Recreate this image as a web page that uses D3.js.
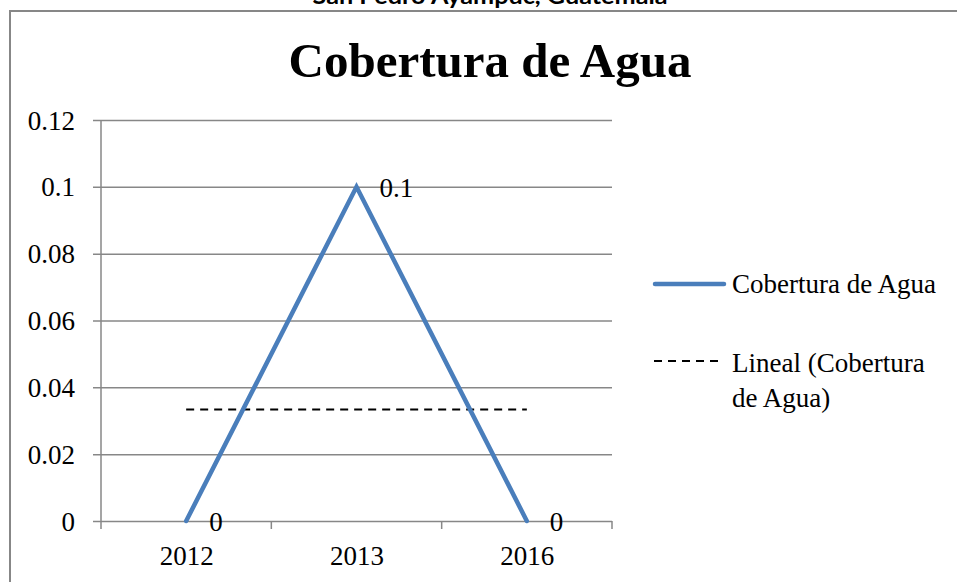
<!DOCTYPE html>
<html>
<head>
<meta charset="utf-8">
<script src="https://cdn.jsdelivr.net/npm/d3@7/dist/d3.min.js"></script>
<style>
  html, body { margin: 0; padding: 0; background: #fff; }
  svg { display: block; }
</style>
</head>
<body>
<svg id="chart" width="957" height="582"></svg>
<script>
// ---- Data ----
const categories = ["2012", "2013", "2016"];
const values = [0, 0.1, 0];
const yTicks = [0, 0.02, 0.04, 0.06, 0.08, 0.1, 0.12];
const yTickLabels = ["0", "0.02", "0.04", "0.06", "0.08", "0.1", "0.12"];
const dataLabels = ["0", "0.1", "0"];
const seriesName = "Cobertura de Agua";
const trendNameLines = ["Lineal (Cobertura", "de Agua)"];
const chartTitle = "Cobertura de Agua";
const topTitle = "San Pedro Ayampuc, Guatemala";

// ---- Layout ----
const svg = d3.select("#chart");
const serif = "'Liberation Serif', 'Times New Roman', serif";
const gray = "#878787";
const blue = "#4A7EBB";
const plot = { left: 101, right: 612, top: 120, bottom: 521 };

const x = d3.scalePoint().domain(categories).range([plot.left, plot.right]).padding(0.5);
const xBand = d3.scaleBand().domain(categories).range([plot.left, plot.right]);
const y = d3.scaleLinear().domain([0, 0.12]).range([plot.bottom, plot.top]);

// outer border (extends beyond viewport right/bottom)
svg.append("path")
  .attr("d", `M10,600 L10,11 L970,11`)
  .attr("fill", "none").attr("stroke", gray).attr("stroke-width", 2);

// top title (cut off)
svg.append("text")
  .attr("x", 490).attr("y", 4)
  .attr("text-anchor", "middle")
  .attr("font-family", "Lato, 'Open Sans', sans-serif")
  .attr("font-weight", "bold").attr("font-size", 23)
  .attr("textLength", 355).attr("lengthAdjust", "spacingAndGlyphs")
  .text(topTitle);

// chart title
svg.append("text")
  .attr("x", 490).attr("y", 77)
  .attr("text-anchor", "middle")
  .attr("font-family", serif).attr("font-weight", "bold").attr("font-size", 49)
  .text(chartTitle);

// gridlines + y ticks
const yAxis = d3.axisLeft(y).tickValues(yTicks)
  .tickSize(-(plot.right - plot.left))
  .tickFormat((d, i) => yTickLabels[i]);
const gy = svg.append("g").attr("transform", `translate(${plot.left},0)`).call(yAxis);
gy.select(".domain").remove();
gy.selectAll(".tick line")
  .attr("x1", -8)
  .attr("stroke", gray).attr("stroke-width", 1.5);
gy.selectAll(".tick text")
  .attr("x", -26).attr("dy", null).attr("y", 9)
  .attr("font-family", serif).attr("font-size", 27).attr("fill", "#000");

// y axis line
svg.append("line")
  .attr("x1", plot.left).attr("x2", plot.left)
  .attr("y1", plot.top).attr("y2", plot.bottom)
  .attr("stroke", gray).attr("stroke-width", 1.5);

// x axis
const xAxis = d3.axisBottom(x).tickSize(0);
const gx = svg.append("g").attr("transform", `translate(0,${plot.bottom})`).call(xAxis);
gx.select(".domain").remove();
gx.selectAll(".tick text")
  .attr("y", 44).attr("dy", null)
  .attr("font-family", serif).attr("font-size", 27).attr("fill", "#000");
// x tick marks at band boundaries
const bounds = categories.map(c => xBand(c)).concat([xBand.range()[1]]);
svg.append("g").selectAll("line").data(bounds).join("line")
  .attr("x1", d => d).attr("x2", d => d)
  .attr("y1", plot.bottom).attr("y2", plot.bottom + 8)
  .attr("stroke", gray).attr("stroke-width", 1.5);

// linear trendline (least squares on index)
const n = values.length;
const xs = values.map((v, i) => i + 1);
const mx = d3.mean(xs), my = d3.mean(values);
const slope = d3.sum(xs.map((xi, i) => (xi - mx) * (values[i] - my))) / d3.sum(xs.map(xi => (xi - mx) ** 2));
const intercept = my - slope * mx;
const trend = categories.map((c, i) => [c, intercept + slope * (i + 1)]);
svg.append("path")
  .datum(trend)
  .attr("d", d3.line().x(d => x(d[0])).y(d => y(d[1])))
  .attr("fill", "none").attr("stroke", "#000").attr("stroke-width", 2)
  .attr("stroke-dasharray", "8,6");

// series line
const data = categories.map((c, i) => ({ c, v: values[i], label: dataLabels[i] }));
svg.append("path")
  .datum(data)
  .attr("d", d3.line().x(d => x(d.c)).y(d => y(d.v)))
  .attr("fill", "none").attr("stroke", blue).attr("stroke-width", 4.5)
  .attr("stroke-linecap", "round").attr("stroke-linejoin", "miter");

// data labels
svg.append("g").selectAll("text").data(data).join("text")
  .attr("x", d => x(d.c) + 23)
  .attr("y", d => y(d.v) + 10)
  .attr("font-family", serif).attr("font-size", 27).attr("fill", "#000")
  .text(d => d.label);

// legend
const lg = svg.append("g");
lg.append("line").attr("x1", 655).attr("x2", 724).attr("y1", 284).attr("y2", 284)
  .attr("stroke", blue).attr("stroke-width", 4.5).attr("stroke-linecap", "round");
lg.append("text").attr("x", 732).attr("y", 293)
  .attr("font-family", serif).attr("font-size", 27).text(seriesName);
lg.append("line").attr("x1", 654).attr("x2", 720).attr("y1", 361).attr("y2", 361)
  .attr("stroke", "#000").attr("stroke-width", 2).attr("stroke-dasharray", "8,6");
lg.append("text").attr("x", 732).attr("y", 372)
  .attr("font-family", serif).attr("font-size", 27)
  .selectAll("tspan").data(trendNameLines).join("tspan")
  .attr("x", 732).attr("dy", (d, i) => i === 0 ? 0 : 35)
  .text(d => d);
</script>
</body>
</html>
